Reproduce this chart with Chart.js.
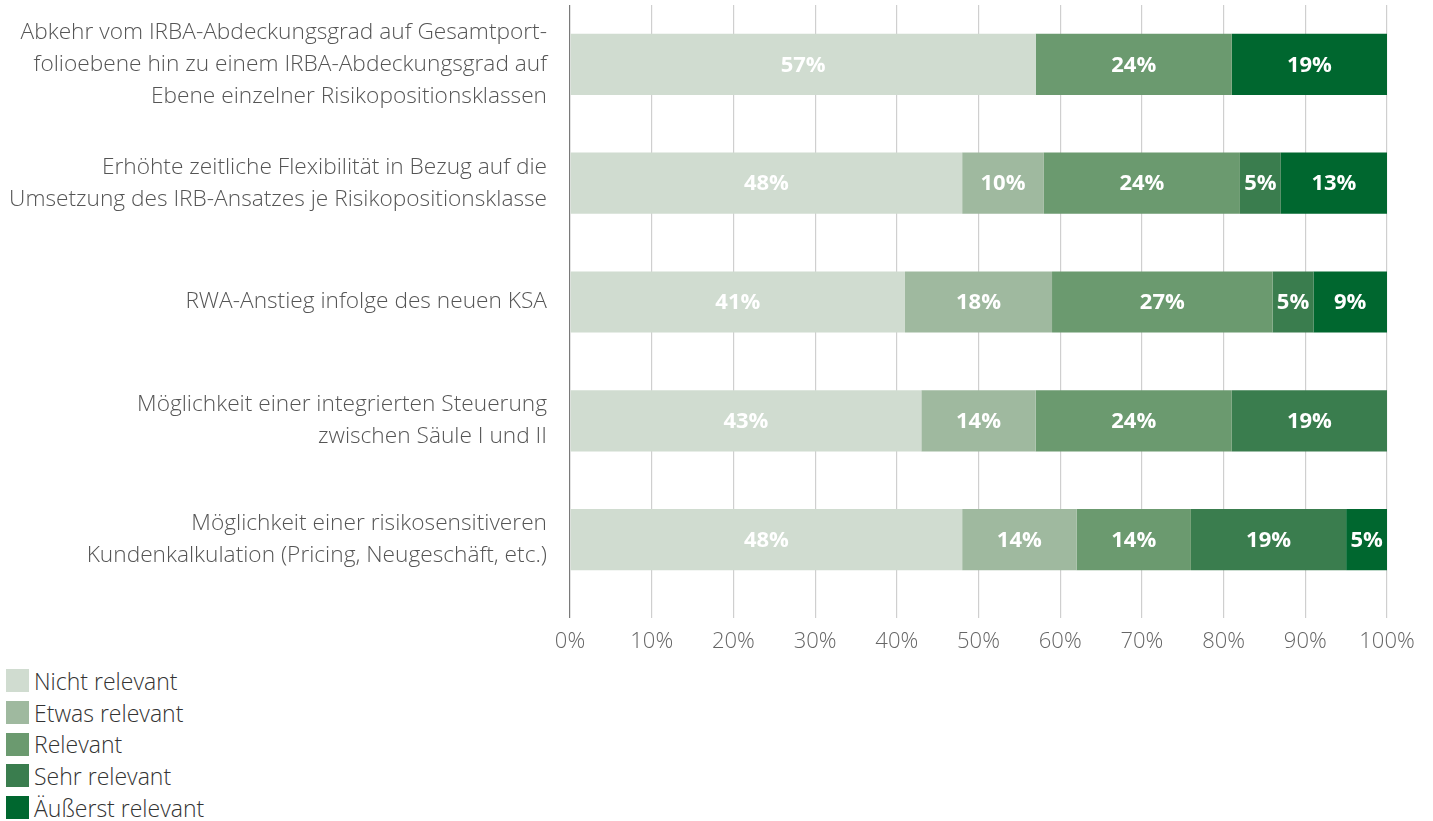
<!DOCTYPE html>
<html lang="de">
<head>
<meta charset="utf-8">
<title>Relevanz</title>
<script src="https://cdn.jsdelivr.net/npm/chart.js@4/dist/chart.umd.min.js"></script>
<style>
    html, body { margin: 0; padding: 0; background: #fff; }
    body { width: 1433px; height: 821px; overflow: hidden; font-family: "Open Sans", sans-serif; }
    #chartBox { position: relative; width: 1433px; height: 665px; }
    #legend { list-style: none; margin: 0; padding: 0 0 0 6px; }
    #legend li { display: flex; align-items: center; height: 31.7px; font-size: 23px; font-weight: 300; color: #333; }
    #legend span.box { display: inline-block; width: 23px; height: 23px; margin-right: 5px; }
</style>
</head>
<body>
<div id="chartBox"><canvas id="relevanzChart" width="1433" height="665"></canvas></div>
<ul id="legend"></ul>
<script>
// Categories (y-axis)
const categories = [
    ["Abkehr vom IRBA-Abdeckungsgrad auf Gesamtport-", "folioebene hin zu einem IRBA-Abdeckungsgrad auf", "Ebene einzelner Risikopositionsklassen"],
    ["Erhöhte zeitliche Flexibilität in Bezug auf die", "Umsetzung des IRB-Ansatzes je Risikopositionsklasse"],
    ["RWA-Anstieg infolge des neuen KSA"],
    ["Möglichkeit einer integrierten Steuerung", "zwischen Säule I und II"],
    ["Möglichkeit einer risikosensitiveren", "Kundenkalkulation (Pricing, Neugeschäft, etc.)"]
];

// Series values in percent
const nichtRelevant     = [57, 48, 41, 43, 48];
const etwasRelevant     = [0, 10, 18, 14, 14];
const relevant          = [24, 24, 27, 24, 14];
const sehrRelevant      = [0, 5, 5, 19, 19];
const aeusserstRelevant = [19, 13, 9, 0, 5];

const seriesNames  = ["Nicht relevant", "Etwas relevant", "Relevant", "Sehr relevant", "Äußerst relevant"];
const seriesColors = ["#d0dcd0", "#9fb99f", "#6b9a6f", "#3a7d4e", "#00672f"];

// Tick labels for x-axis
const xTicks = [0, 10, 20, 30, 40, 50, 60, 70, 80, 90, 100];

const seriesData = [nichtRelevant, etwasRelevant, relevant, sehrRelevant, aeusserstRelevant];

// white bold percentage labels in the middle of each segment
const barLabels = {
    id: "barLabels",
    afterDatasetsDraw(chart) {
        const ctx = chart.ctx;
        ctx.save();
        ctx.font = "bold 22px 'Open Sans', sans-serif";
        ctx.fillStyle = "#ffffff";
        ctx.textAlign = "center";
        ctx.textBaseline = "middle";
        chart.data.datasets.forEach((ds, i) => {
            const meta = chart.getDatasetMeta(i);
            meta.data.forEach((bar, j) => {
                const v = ds.data[j];
                if (!v) return;
                const p = bar.getCenterPoint();
                ctx.fillText(v + "%", p.x, p.y + 1);
            });
        });
        ctx.restore();
    }
};

const relevanzChart = new Chart(document.getElementById("relevanzChart"), {
    type: "bar",
    data: {
        labels: categories,
        datasets: seriesData.map((d, i) => ({
            label: seriesNames[i],
            data: d,
            backgroundColor: seriesColors[i],
            borderWidth: 0,
            barPercentage: 0.515,
            categoryPercentage: 1
        }))
    },
    options: {
        indexAxis: "y",
        responsive: false,
        animation: false,
        layout: { padding: { top: 5, right: 46, left: 0, bottom: 0 } },
        plugins: {
            legend: { display: false },
            tooltip: { enabled: false }
        },
        scales: {
            x: {
                stacked: true,
                min: 0,
                max: 100,
                afterBuildTicks: (scale) => { scale.ticks = xTicks.map(v => ({ value: v })); },
                afterFit: (scale) => { scale.height = 66; scale.paddingLeft = 0; scale.paddingRight = 0; },
                ticks: {
                    callback: (v) => v + "%",
                    color: "#666",
                    padding: 11,
                    maxRotation: 0,
                    font: { family: "'Open Sans', sans-serif", size: 22, weight: 300 }
                },
                grid: {
                    color: (c) => c.index === 0 ? "#7a7a7a" : "#cfcfcf",
                    lineWidth: 1.2,
                    tickLength: 19,
                    drawOnChartArea: true
                },
                border: { display: false }
            },
            y: {
                stacked: true,
                afterFit: (scale) => { scale.width = 570; scale.paddingTop = 0; scale.paddingBottom = 0; },
                ticks: {
                    color: "#555",
                    padding: 15,
                    font: { family: "'Open Sans', sans-serif", size: 22.7, weight: 300, lineHeight: 1.41 }
                },
                grid: { display: false },
                border: { display: false }
            }
        }
    },
    plugins: [barLabels]
});

// HTML legend, one entry per line
const legendList = document.getElementById("legend");
relevanzChart.data.datasets.forEach(ds => {
    const li = document.createElement("li");
    li.innerHTML = `<span class="box" style="background:${ds.backgroundColor}"></span>${ds.label}`;
    legendList.appendChild(li);
});
</script>
</body>
</html>
